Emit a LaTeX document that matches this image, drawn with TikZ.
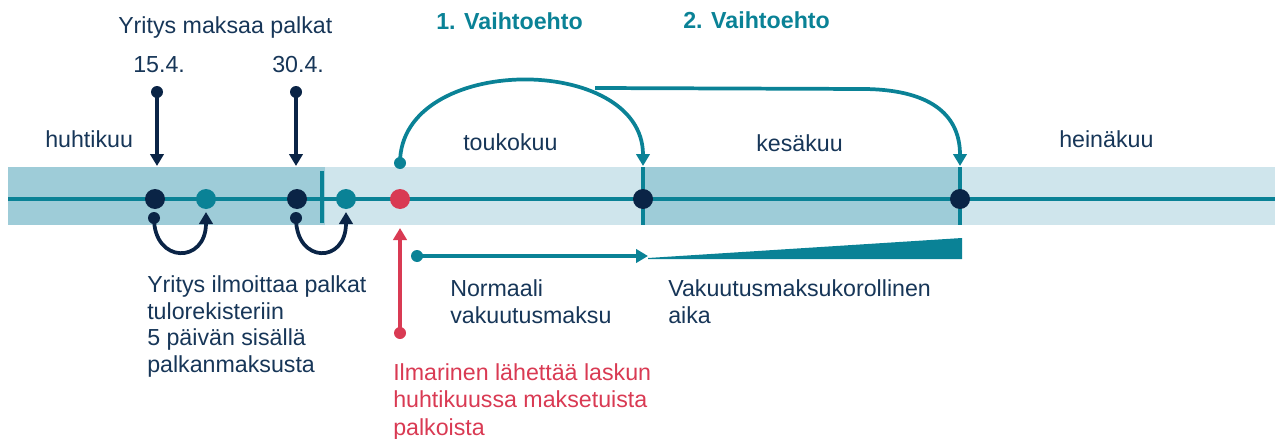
\documentclass[tikz,border=0pt]{standalone}
\usepackage{fontspec}
\setmainfont{Liberation Sans}
\usetikzlibrary{arrows.meta}
\definecolor{navy}{HTML}{0A2446}
\definecolor{textnavy}{HTML}{173658}
\definecolor{teal}{HTML}{0A8296}
\definecolor{banddark}{HTML}{9ECCD8}
\definecolor{bandlight}{HTML}{CFE5EC}
\definecolor{ilmred}{HTML}{D93A53}
\tikzset{
  txt/.style={inner sep=0pt, anchor=base west, text=textnavy, align=left,
    font=\fontsize{17.4}{19.8}\selectfont},
  bigdot/.style={circle, inner sep=0pt, minimum size=15pt},
  tinydot/.style={circle, inner sep=0pt, minimum size=9pt},
  conn/.style={line width=2.8pt, -{Triangle[length=9pt,width=10pt]}},
}
\begin{document}
\begin{tikzpicture}[x=0.75pt, y=-0.75pt]
                \useasboundingbox (0,0) rectangle (1275,439);
                % months band
                \fill[banddark] (8,167) rectangle (325,225);
                \fill[bandlight] (325,167) rectangle (641,225);
                \fill[banddark] (641,167) rectangle (960,225);
                \fill[bandlight] (960,167) rectangle (1275,225);
                \draw[teal, line width=2.4pt] (8,199) -- (1275,199);
                \draw[teal, line width=2.4pt] (322,171) -- (322,223);
                \draw[teal, line width=2.4pt] (643,167) -- (643,225);
                \draw[teal, line width=2.4pt] (960,167) -- (960,225);
                \node[txt] (huhti) at (45,147) {huhtikuu};
                \node[txt] (touko) at (463,150) {toukokuu};
                \node[txt] (kesa) at (756,151) {kesäkuu};
                \node[txt] (heina) at (1059,147) {heinäkuu};
                % dots on the line
                \node[bigdot, fill=navy] (pay1) at (155,199) {};
                \node[bigdot, fill=teal] (rep1) at (206,199) {};
                \node[bigdot, fill=navy] (pay2) at (297,199) {};
                \node[bigdot, fill=teal] (rep2) at (346,199) {};
                \node[bigdot, fill=ilmred] (bill) at (400,199) {};
                \node[bigdot, fill=navy] (due1) at (643,199) {};
                \node[bigdot, fill=navy] (due2) at (960,199) {};
                % pay days
                \node[txt] (paytitle) at (118,33) {Yritys maksaa palkat};
                \node[txt] (d15) at (133,72) {15.4.};
                \node[txt] (d30) at (272,72) {30.4.};
                \node[tinydot, fill=navy] (p15) at (157,92) {};
                \node[tinydot, fill=navy] (p30) at (296,92) {};
                \coordinate (p15end) at (157,166);
                \coordinate (p30end) at (296,166);
                \draw[conn, navy] (p15.center) -- (p15end);
                \draw[conn, navy] (p30.center) -- (p30end);
                % reporting loops
                \node[tinydot, fill=navy] (s1) at (154,218) {};
                \node[tinydot, fill=navy] (s2) at (296,218) {};
                \coordinate (r1end) at (206,212);
                \coordinate (r2end) at (346,212);
                \draw[conn, navy] (s1.center) .. controls (154,264) and (206,264) .. (r1end);
                \draw[conn, navy] (s2.center) .. controls (296,264) and (346,264) .. (r2end);
                \node[txt] (report) at (147,372) {Yritys ilmoittaa palkat\\tulorekisteriin\\5 päivän sisällä\\palkanmaksusta};
                % invoice
                \node[tinydot, fill=ilmred] (b0) at (400,333) {};
                \coordinate (bend) at (400,228);
                \draw[conn, ilmred] (b0.center) -- (bend);
                \node[txt, text=ilmred, font=\fontsize{17.4}{20.3}\selectfont] (billtxt) at (393,435) {Ilmarinen lähettää laskun\\huhtikuussa maksetuista\\palkoista};
                % options
                \node[txt, text=teal, font=\fontsize{17.4}{20.6}\selectfont\bfseries] (opt1) at (436,30) {1. Vaihtoehto};
                \node[txt, text=teal, font=\fontsize{17.4}{20.6}\selectfont\bfseries] (opt2) at (683,28) {2. Vaihtoehto};
                \node[tinydot, fill=teal] (a1) at (400,163) {};
                \coordinate (a1end) at (643,166);
                \coordinate (a2) at (595,88);
                \coordinate (a2end) at (960,166);
                \draw[conn, teal] (a1.center) .. controls (400,53) and (643,53) .. (a1end);
                \draw[conn, teal] (a2) -- (865,89) .. controls (935,90) and (960,118) .. (a2end);
                % premium
                \node[tinydot, fill=teal] (n0) at (417,256) {};
                \coordinate (n1) at (648,256);
                \draw[conn, teal] (n0.center) -- (n1);
                \fill[teal] (648,258) -- (962,238) -- (962,259) -- (648,259) -- cycle;
                \node[txt] (normal) at (450,323) {Normaali\\vakuutusmaksu};
                \node[txt] (korko) at (668,323) {Vakuutusmaksukorollinen\\aika};
\end{tikzpicture}
\end{document}
